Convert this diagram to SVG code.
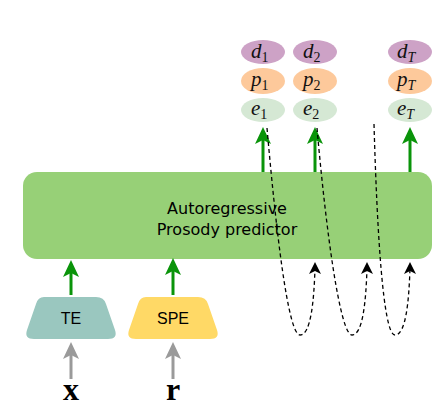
<svg xmlns="http://www.w3.org/2000/svg" width="442" height="410" viewBox="0 0 442 410">
<style>
.d{fill:#cda2c6}
.p{fill:#fdc99b}
.e{fill:#d5e8d4}
.m{font-family:"Liberation Serif",serif;font-style:italic;font-size:21px;fill:#111}
.s{font-size:14px;font-style:normal}
.st{font-size:14px}
.g{stroke:#0a940a;stroke-width:3;fill:none}
.gh{fill:#0a940a}
.gr{stroke:#9a9a9a;stroke-width:3;fill:none}
.grh{fill:#9a9a9a}
.dash{stroke:#000;stroke-width:1.3;stroke-dasharray:4 3;fill:none}
.lbl{font-family:"DejaVu Sans",sans-serif;font-size:16px;fill:#000;text-anchor:middle}
.enc{font-family:"Liberation Sans",Arial,sans-serif;font-size:16px;fill:#000;text-anchor:middle}
.var{font-family:"Liberation Serif",serif;font-size:32px;font-weight:bold;fill:#000;text-anchor:middle}
</style>
<g id="predictor">
<rect x="23" y="172" width="409" height="87" rx="14" fill="#97d077"/>
<text class="lbl" x="227" y="214">Autoregressive</text>
<text class="lbl" x="227" y="235">Prosody predictor</text>
</g>
<g id="TE">
<path d="M44,297 L96,297 Q104,297 106,304 L115,330 Q118,339 108,339 L34,339 Q24,339 27,330 L36,304 Q38,297 44,297 Z" fill="#9ac7bf"/>
<text class="enc" x="71" y="324">TE</text>
</g>
<g id="SPE">
<path d="M146,297 L198,297 Q206,297 208,304 L217,330 Q220,339 210,339 L136,339 Q126,339 129,330 L138,304 Q140,297 146,297 Z" fill="#ffd966"/>
<text class="enc" x="173" y="324">SPE</text>
</g>
<g id="x"><text class="var" x="71" y="400">x</text></g>
<g id="r"><text class="var" x="173" y="400">r</text></g>
<g id="tok1">
<ellipse class="d" cx="263" cy="52" rx="22" ry="12"/>
<ellipse class="p" cx="263" cy="81" rx="22" ry="13"/>
<ellipse class="e" cx="263" cy="110" rx="22" ry="12"/>
<text class="m" x="251" y="58">d<tspan class="s" dy="4">1</tspan></text>
<text class="m" x="251" y="86">p<tspan class="s" dy="4">1</tspan></text>
<text class="m" x="251" y="115">e<tspan class="s" dy="4">1</tspan></text>
</g>
<g id="tok2">
<ellipse class="d" cx="315" cy="52" rx="22" ry="12"/>
<ellipse class="p" cx="315" cy="81" rx="22" ry="13"/>
<ellipse class="e" cx="315" cy="110" rx="22" ry="12"/>
<text class="m" x="303" y="58">d<tspan class="s" dy="4">2</tspan></text>
<text class="m" x="303" y="86">p<tspan class="s" dy="4">2</tspan></text>
<text class="m" x="303" y="115">e<tspan class="s" dy="4">2</tspan></text>
</g>
<g id="tokT">
<ellipse class="d" cx="410" cy="52" rx="22" ry="12"/>
<ellipse class="p" cx="410" cy="81" rx="22" ry="13"/>
<ellipse class="e" cx="410" cy="110" rx="22" ry="12"/>
<text class="m" x="397" y="58">d<tspan class="st" dy="4">T</tspan></text>
<text class="m" x="397" y="86">p<tspan class="st" dy="4">T</tspan></text>
<text class="m" x="397" y="115">e<tspan class="st" dy="4">T</tspan></text>
</g>
<g id="connectors">
<path class="g" d="M263,172 L263,138"/>
<path class="gh" d="M263,127 L271,144 L263,140 L255,144 Z"/>
<path class="g" d="M315,172 L315,138"/>
<path class="gh" d="M315,127 L323,144 L315,140 L307,144 Z"/>
<path class="g" d="M410,172 L410,138"/>
<path class="gh" d="M410,127 L418,144 L410,140 L402,144 Z"/>
<path class="g" d="M71,295 L71,270"/>
<path class="gh" d="M71,260 L79,277 L71,273 L63,277 Z"/>
<path class="g" d="M173,295 L173,268"/>
<path class="gh" d="M173,258 L181,275 L173,271 L165,275 Z"/>
<path class="gr" d="M71,379 L71,352"/>
<path class="grh" d="M71,342 L79,359 L71,355 L63,359 Z"/>
<path class="gr" d="M173,379 L173,352"/>
<path class="grh" d="M173,342 L181,359 L173,355 L165,359 Z"/>
<path class="dash" d="M267,128 C276,230 288,335 300,335 C311,335 314,300 315,268"/>
<path d="M315,262 L321,274 L315,271 L309,274 Z" fill="#000"/>
<path class="dash" d="M317,128 C326,230 340,335 352,335 C363,335 366,300 367,268"/>
<path d="M367,262 L373,274 L367,271 L361,274 Z" fill="#000"/>
<path class="dash" d="M374,124 C377,230 383,335 395,335 C406,335 409,300 410,268"/>
<path d="M410,262 L416,274 L410,271 L404,274 Z" fill="#000"/>
</g>
</svg>
